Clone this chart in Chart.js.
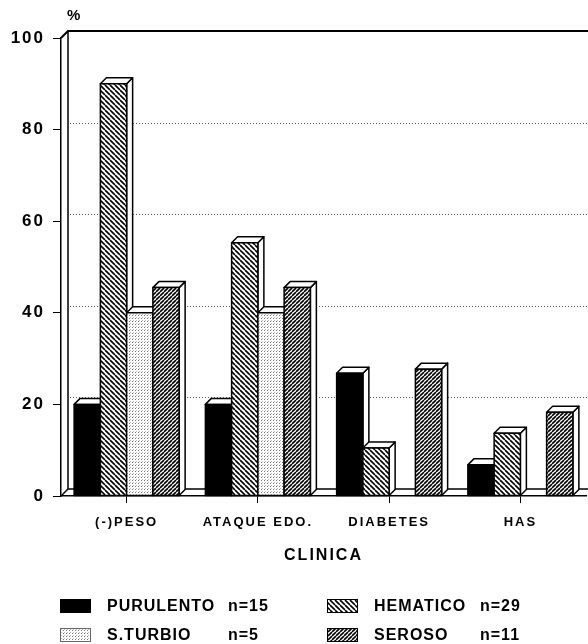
<!DOCTYPE html>
<html><head><meta charset="utf-8">
<script src="https://cdn.jsdelivr.net/npm/chart.js@4/dist/chart.umd.min.js"></script>
<style>html,body{margin:0;padding:0;background:#fff;overflow:hidden}canvas{display:block}</style>
</head><body>
<canvas id="c" width="588" height="644" style="width:588px;height:644px"></canvas>
<script>
// ---- data ----
const categories = ['(-)PESO', 'ATAQUE EDO.', 'DIABETES', 'HAS'];
const purulento = [20, 20, 26.8, 6.8];
const hematico  = [90, 55.3, 10.5, 13.7];
const sTurbio   = [40, 40, 0, 0];
const seroso    = [45.5, 45.5, 27.7, 18.3];
const seriesNames = ['PURULENTO', 'HEMATICO', 'S.TURBIO', 'SEROSO'];
const seriesN     = ['n=15', 'n=29', 'n=5', 'n=11'];
const yTicks = [0, 20, 40, 60, 80, 100];
const yUnit = '%';
const xTitle = 'CLINICA';

const FONT = "'Liberation Sans', Arial, Helvetica, sans-serif";
Chart.defaults.font.family = FONT;

// ---- patterns ----
function makePattern(kind) {
  const c = document.createElement('canvas');
  const s = kind === 'seroso' ? 4 : (kind === 'hematico' ? 5 : 3);
  c.width = s; c.height = s;
  const g = c.getContext('2d');
  g.fillStyle = '#fff'; g.fillRect(0, 0, s, s);
  g.strokeStyle = '#000';
  if (kind === 'hematico') {
    g.lineWidth = 1.6;
    for (const k of [-s, 0, s]) { g.beginPath(); g.moveTo(k, 0); g.lineTo(k + s, s); g.stroke(); }
  } else if (kind === 'seroso') {
    g.lineWidth = 1.6;
    for (const k of [-s, 0, s]) { g.beginPath(); g.moveTo(k, s); g.lineTo(k + s, 0); g.stroke(); }
  } else if (kind === 'turbio') {
    g.fillStyle = '#777';
    g.fillRect(0, 0, 1, 1);
    g.fillStyle = '#bbb';
    g.fillRect(1, 2, 1, 1);
  }
  return document.getElementById('c').getContext('2d').createPattern(c, 'repeat');
}
const fills = ['#000', makePattern('hematico'), makePattern('turbio'), makePattern('seroso')];

const WALL = 7, DEPTH = 6;

const threeD = {
  id: 'threeD',
  beforeDraw(chart) { chart.ctx.letterSpacing = '2px'; },
  beforeDatasetsDraw(chart) {
    const { ctx, chartArea: a, scales: { y } } = chart;
    const W = chart.width;
    ctx.save();
    // back wall dotted gridlines
    ctx.lineWidth = 1;
    ctx.strokeStyle = '#555';
    ctx.setLineDash([1, 2]);
    yTicks.forEach(v => {
      if (v > 0 && v < 100) {
        const py = Math.round(y.getPixelForValue(v) - WALL) + 0.5;
        ctx.beginPath(); ctx.moveTo(a.left + WALL + 2, py); ctx.lineTo(W, py); ctx.stroke();
      }
    });
    ctx.setLineDash([]);
    ctx.strokeStyle = '#000';
    const top = y.getPixelForValue(100), bot = y.getPixelForValue(0);
    ctx.lineWidth = 2;
    ctx.beginPath(); ctx.moveTo(a.left, top); ctx.lineTo(a.left + WALL, top - WALL); ctx.lineTo(W, top - WALL); ctx.stroke();
    ctx.lineWidth = 1.5;
    ctx.beginPath(); ctx.moveTo(a.left + WALL, top - WALL); ctx.lineTo(a.left + WALL, bot - WALL); ctx.lineTo(W, bot - WALL); ctx.stroke();
    ctx.beginPath(); ctx.moveTo(a.left, bot); ctx.lineTo(a.left + WALL, bot - WALL); ctx.stroke();

    // bars, left to right
    ctx.lineWidth = 1.5;
    ctx.lineJoin = 'round';
    for (let di = 0; di < chart.data.datasets.length; di++) {
      const meta = chart.getDatasetMeta(di);
      meta.data.forEach((el, j) => {
        const v = chart.data.datasets[di].data[j];
        if (!v) return;
        const { x, y: yt, base, width } = el.getProps(['x', 'y', 'base', 'width'], true);
        const l = x - width / 2, r = x + width / 2, d = DEPTH;
        // side face
        ctx.fillStyle = '#fff';
        ctx.beginPath();
        ctx.moveTo(r, yt); ctx.lineTo(r + d, yt - d); ctx.lineTo(r + d, base - d); ctx.lineTo(r, base);
        ctx.closePath(); ctx.fill(); ctx.stroke();
        // top face
        ctx.beginPath();
        ctx.moveTo(l, yt); ctx.lineTo(l + d, yt - d); ctx.lineTo(r + d, yt - d); ctx.lineTo(r, yt);
        ctx.closePath(); ctx.fill(); ctx.stroke();
        // front
        ctx.fillStyle = fills[di];
        ctx.fillRect(l, yt, r - l, base - yt);
        ctx.strokeRect(l, yt, r - l, base - yt);
      });
    }
    ctx.restore();
    return false;
  },
  afterDraw(chart) {
    const { ctx, chartArea: a } = chart;
    ctx.save();
    ctx.fillStyle = '#000';
    ctx.letterSpacing = '0px';
    ctx.font = `bold 15px ${FONT}`;
    ctx.textBaseline = 'middle';
    ctx.textAlign = 'left';
    ctx.fillText(yUnit, a.left + 6, 16);

    // legend
    const cols = [60, 327], rows = [606, 635], nOff = [168, 153];
    ctx.font = `bold 16px ${FONT}`;
    ctx.letterSpacing = '1px';
    seriesNames.forEach((name, i) => {
      const cx = cols[i % 2], cy = rows[Math.floor(i / 2)];
      ctx.fillStyle = fills[i];
      ctx.fillRect(cx, cy - 7, 31, 14);
      ctx.strokeStyle = i === 2 ? '#666' : '#000';
      ctx.lineWidth = 1;
      ctx.strokeRect(cx + 0.5, cy - 6.5, 30, 13);
      ctx.fillStyle = '#000';
      ctx.fillText(name, cx + 47, cy + 1);
      ctx.fillText(seriesN[i], cx + nOff[i % 2], cy + 1);
    });
    ctx.restore();
  }
};

new Chart(document.getElementById('c'), {
  type: 'bar',
  data: {
    labels: categories,
    datasets: [
      { label: seriesNames[0], data: purulento, backgroundColor: fills[0] },
      { label: seriesNames[1], data: hematico, backgroundColor: fills[1] },
      { label: seriesNames[2], data: sTurbio, backgroundColor: fills[2] },
      { label: seriesNames[3], data: seroso, backgroundColor: fills[3] }
    ]
  },
  options: {
    responsive: false,
    animation: false,
    devicePixelRatio: 1,
    layout: { padding: { left: 0, right: 2, top: 38, bottom: 0 } },
    plugins: { legend: { display: false }, tooltip: { enabled: false } },
    datasets: { bar: { categoryPercentage: 0.8, barPercentage: 1.0 } },
    scales: {
      x: {
        afterFit(s) { s.height = 148; },
        grid: { display: true, drawOnChartArea: false, drawTicks: true, tickLength: 7, offset: false, color: '#000', lineWidth: 1 },
        border: { display: true, color: '#000', width: 1.5 },
        ticks: { color: '#000', font: { size: 13, weight: 'bold' }, padding: 12, maxRotation: 0 },
        title: { display: true, text: xTitle, color: '#000', font: { size: 16, weight: 'bold' }, padding: { top: 0, bottom: 79 } }
      },
      y: {
        min: 0, max: 100,
        afterFit(s) { s.width = 61; },
        afterBuildTicks(s) { s.ticks = yTicks.map(v => ({ value: v })); },
        grid: { drawOnChartArea: false, drawTicks: true, tickLength: 8, color: '#000', lineWidth: 1 },
        border: { display: true, color: '#000', width: 1.5 },
        ticks: { color: '#000', font: { size: 17, weight: 'bold' }, padding: 8 }
      }
    }
  },
  plugins: [threeD]
});
</script>
</body></html>
